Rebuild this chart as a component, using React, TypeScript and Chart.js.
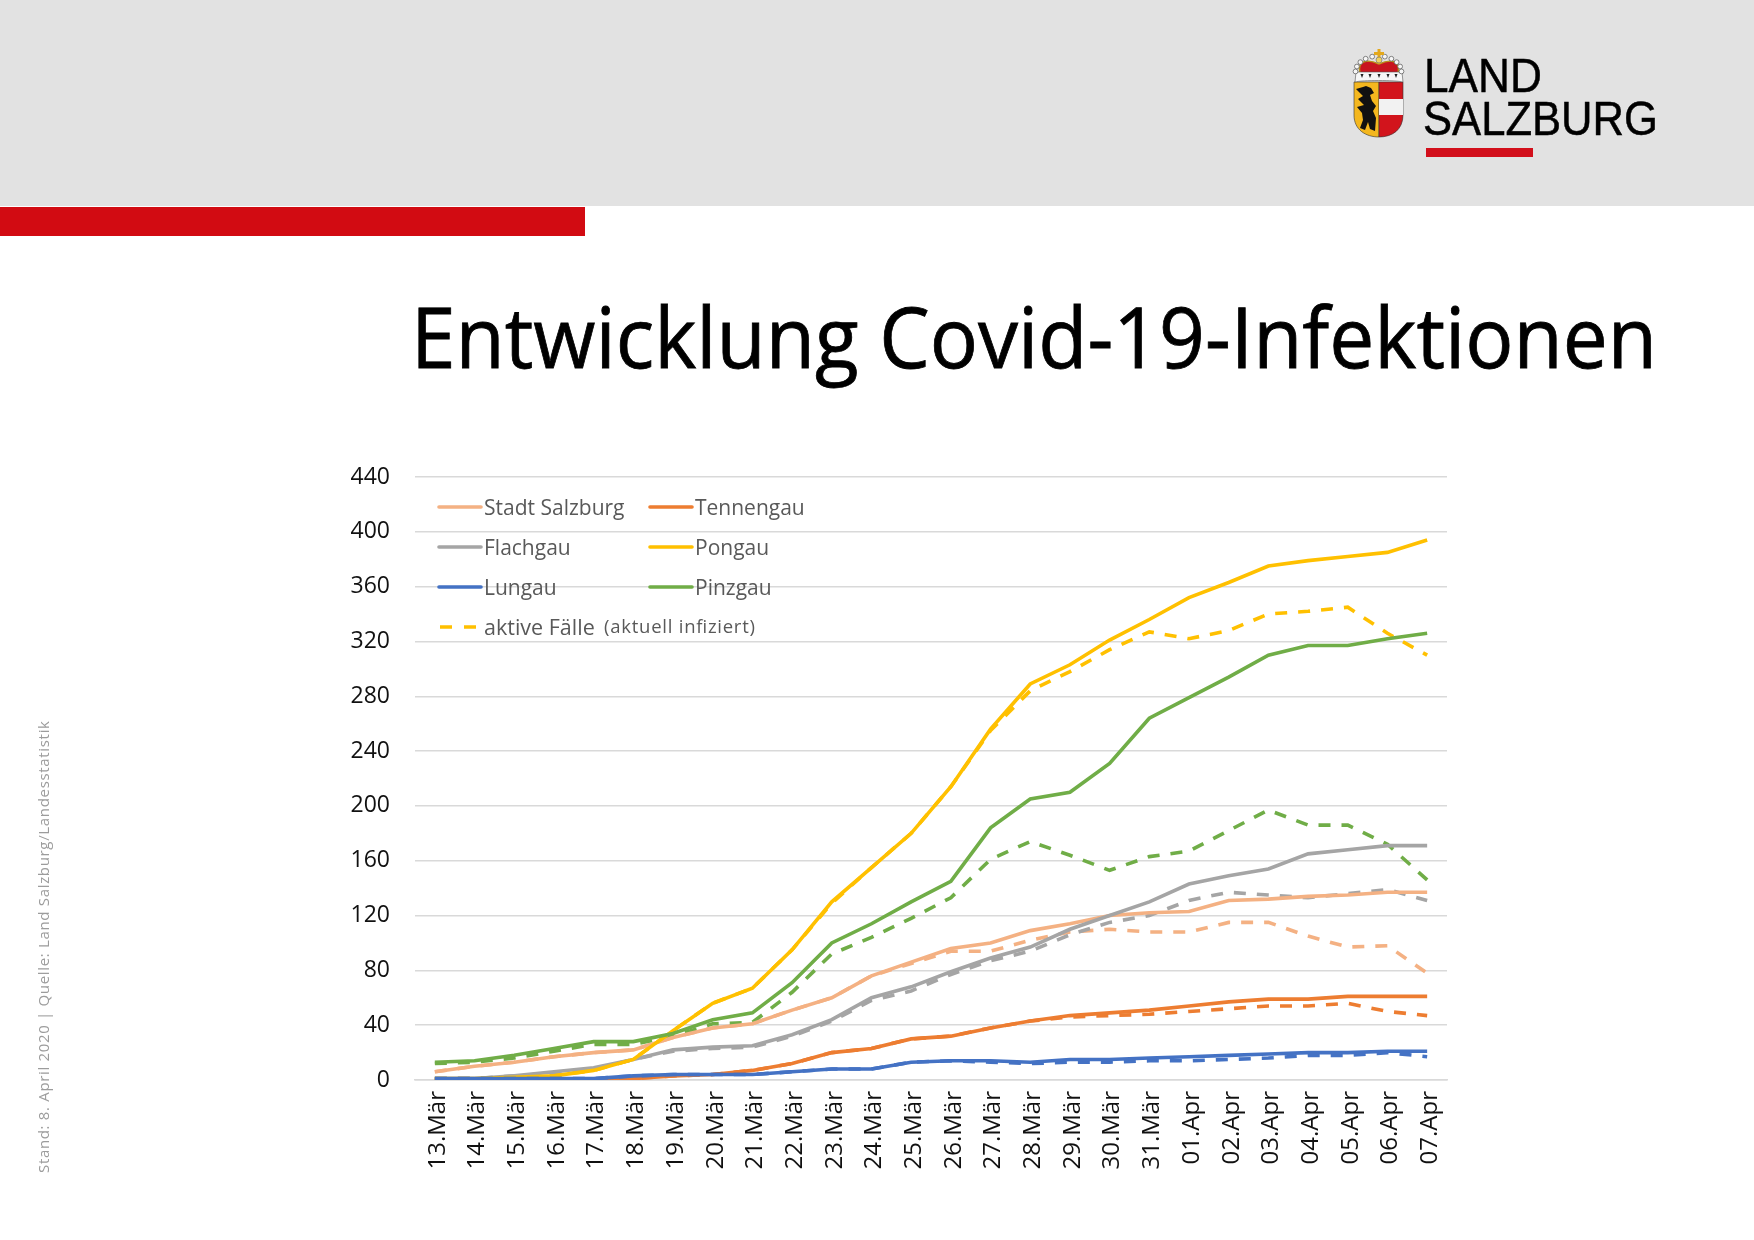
import React, { useEffect, useRef } from "react";
import { Chart, registerables } from "chart.js";

Chart.register(...registerables);

const days = ["13.Mär","14.Mär","15.Mär","16.Mär","17.Mär","18.Mär","19.Mär","20.Mär","21.Mär","22.Mär","23.Mär","24.Mär","25.Mär","26.Mär","27.Mär","28.Mär","29.Mär","30.Mär","31.Mär","01.Apr","02.Apr","03.Apr","04.Apr","05.Apr","06.Apr","07.Apr"];

const stadt = [6,10,13,17,20,22,31,38,41,51,60,76,86,96,100,109,114,120,122,123,131,132,134,135,137,137];
const stadtActive = [6,10,13,17,20,22,31,38,41,51,60,76,85,94,94,102,108,110,108,108,115,115,105,97,98,78];
const tennengau = [0,0,0,0,0,1,3,4,7,12,20,23,30,32,38,43,47,49,51,54,57,59,59,61,61,61];
const tennengauActive = [0,0,0,0,0,1,3,4,7,12,20,23,30,32,38,43,46,47,48,50,52,54,54,56,50,47];
const flachgau = [1,1,3,6,9,15,22,24,25,33,44,60,68,79,89,97,110,120,130,143,149,154,165,168,171,171];
const flachgauActive = [1,1,3,5,8,15,21,23,24,32,43,58,65,77,87,94,106,115,120,131,137,135,133,136,139,131];
const pongau = [1,1,2,3,7,15,36,56,67,95,130,155,180,214,256,289,303,321,336,352,363,375,379,382,385,394];
const pongauActive = [1,1,2,3,7,15,36,56,67,95,129,155,180,214,255,284,298,314,327,322,328,340,342,345,326,310];
const lungau = [1,1,1,1,1,3,4,4,4,6,8,8,13,14,14,13,15,15,16,17,18,19,20,20,21,21];
const lungauActive = [1,1,1,1,1,3,4,4,4,6,8,8,13,14,13,12,13,13,14,14,15,16,18,18,20,17];
const pinzgau = [13,14,18,23,28,28,34,44,49,71,100,114,130,145,184,205,210,231,264,279,294,310,317,317,322,326];
const pinzgauActive = [12,13,16,21,26,26,32,41,42,64,92,104,118,133,161,174,164,153,163,167,182,197,186,186,172,146];

const seriesNames = ["Stadt Salzburg","Tennengau","Flachgau","Pongau","Lungau","Pinzgau"];
const seriesColors = ["#F4B183","#ED7D31","#A5A5A5","#FFC000","#4472C4","#70AD47"];
const solidValues = [stadt,tennengau,flachgau,pongau,lungau,pinzgau];
const activeValues = [stadtActive,tennengauActive,flachgauActive,pongauActive,lungauActive,pinzgauActive];
const solidOrder = [9,5,6,4,1,3];
const activeOrder = [12,8,10,7,2,11];

const chartFont = "'Open Sans', sans-serif";
const legendRows = [
  { y: 507, cells: [0, 1] },
  { y: 547, cells: [2, 3] },
  { y: 587, cells: [4, 5] },
];
const legendX = [439, 650];
const pearlAngles = [-178,-160,-142,-124,-106,-74,-56,-38,-20,-2];

function Overlay() {
  return (
    <svg width={1754} height={1240} style={{ position: "absolute", left: 0, top: 0, pointerEvents: "none" }}>
      <rect x={0} y={0} width={1754} height={206} fill="#E2E2E2" />
      <rect x={0} y={207} width={585} height={29} fill="#D20B12" />
      <rect x={1426} y={148} width={107} height={9} fill="#D20F1B" />
      <text x={1424} y={92} fontFamily="'Liberation Sans', sans-serif" fontSize={49} textLength={118} lengthAdjust="spacingAndGlyphs" fill="#000" stroke="#000" strokeWidth={0.5}>LAND</text>
      <text x={1423} y={135} fontFamily="'Liberation Sans', sans-serif" fontSize={49} textLength={235} lengthAdjust="spacingAndGlyphs" fill="#000" stroke="#000" strokeWidth={0.5}>SALZBURG</text>

      <path d="M1354 82 H1379 V137 C1366 137 1354 130 1354 115 Z" fill="#F4B71E" stroke="#333" strokeWidth={0.6} />
      <path d="M1379 82 H1403 V115 C1403 130 1392 137 1379 137 Z" fill="#D2141C" stroke="#333" strokeWidth={0.6} />
      <rect x={1379} y={99} width={24} height={16} fill="#F2F2F2" />
      <path d="M1356 89 L1363 87 L1366 86 L1371 88 L1374 93 L1370 95 L1372 101 L1376 106 L1373 111 L1376 118 L1375 131 L1370 129 L1368 122 L1365 130 L1360 128 L1363 120 L1362 113 L1357 107 L1364 105 L1358 99 L1363 96 Z" fill="#111" />
      <path d="M1360 73 C1357 60 1368 59 1379 64 C1390 59 1401 60 1398 73 Z" fill="#C8141E" stroke="#B8901A" strokeWidth={1.4} />
      <path d="M1356 72 H1402 L1403 82 C1395 80 1362 80 1355 82 Z" fill="#F6F6F6" stroke="#555" strokeWidth={0.6} />
      {[1362,1370,1379,1388,1396].map((x) => (
        <path key={x} d={`M${x - 1.5} 74 h3 l-1.5 4 Z`} fill="#222" />
      ))}
      {pearlAngles.map((a) => (
        <circle key={a} cx={1378.5 + 23 * Math.cos((a * Math.PI) / 180)} cy={72 + 16 * Math.sin((a * Math.PI) / 180)} r={2.4} fill="#F6F6F6" stroke="#555" strokeWidth={0.7} />
      ))}
      <rect x={1377.5} y={49} width={3} height={15} fill="#E3A81C" />
      <rect x={1374} y={52} width={10} height={3} fill="#E3A81C" />
      <circle cx={1379} cy={60} r={3} fill="#F0D060" stroke="#777" strokeWidth={0.7} />

      <text x={411} y={368} fontFamily="'Open Sans', sans-serif" fontSize={84} textLength={1246} lengthAdjust="spacingAndGlyphs" fill="#000" stroke="#000" strokeWidth={0.8}>Entwicklung Covid-19-Infektionen</text>

      <text transform="translate(49 1173) rotate(-90)" fontFamily="'Open Sans', sans-serif" fontSize={15} textLength={452} fill="#9C9C9C">Stand: 8. April 2020 | Quelle: Land Salzburg/Landesstatistik</text>

      {legendRows.map((row) =>
        row.cells.map((idx, c) => (
          <g key={idx}>
            <line x1={legendX[c]} x2={legendX[c] + 42} y1={row.y} y2={row.y} stroke={seriesColors[idx]} strokeWidth={3.6} strokeLinecap="round" />
            <text x={legendX[c] + 45} y={row.y + 8} fontFamily="'Open Sans', sans-serif" fontSize={21} fill="#595959">{seriesNames[idx]}</text>
          </g>
        ))
      )}
      <line x1={440} x2={478} y1={627} y2={627} stroke="#FFC000" strokeWidth={3.6} strokeDasharray="12 12" />
      <text x={484} y={635} fontFamily="'Open Sans', sans-serif" fontSize={21.5} fill="#595959">aktive Fälle</text>
      <text x={604} y={633} fontFamily="'Open Sans', sans-serif" fontSize={18.5} textLength={151} fill="#595959">(aktuell infiziert)</text>
    </svg>
  );
}

export default function App() {
  const ref = useRef<HTMLCanvasElement>(null);
  useEffect(() => {
    document.body.style.margin = "0";
    document.body.style.overflow = "hidden";
    const solid = seriesNames.map((name, i) => ({
      label: name,
      data: solidValues[i],
      borderColor: seriesColors[i],
      backgroundColor: seriesColors[i],
      borderWidth: 3.6,
      pointRadius: 0,
      tension: 0,
      order: solidOrder[i],
    }));
    const active = seriesNames.map((name, i) => ({
      label: name + " aktive Fälle",
      data: activeValues[i],
      borderColor: seriesColors[i],
      backgroundColor: seriesColors[i],
      borderWidth: 3.6,
      borderDash: [12, 11],
      pointRadius: 0,
      tension: 0,
      order: activeOrder[i],
    }));
    const chart = new Chart(ref.current!, {
      type: "line",
      data: { labels: days, datasets: [...solid, ...active] },
      options: {
        animation: false,
        responsive: false,
        devicePixelRatio: 1,
        layout: { padding: { left: 338, right: 307, top: 477, bottom: 60 } },
        plugins: { legend: { display: false }, tooltip: { enabled: false } },
        scales: {
          x: {
            offset: true,
            grid: { display: false, drawTicks: false },
            border: { display: true, color: "#D9D9D9", width: 1.5 },
            afterFit: (s: any) => { s.height = 100; },
            ticks: {
              autoSkip: false,
              minRotation: 90,
              maxRotation: 90,
              padding: 11,
              labelOffset: 3,
              color: "#111",
              font: { family: chartFont, size: 24 },
            },
          },
          y: {
            min: 0,
            max: 440,
            grid: { color: "#D9D9D9", lineWidth: 1.5, drawTicks: false },
            border: { display: false },
            afterFit: (s: any) => { s.width = 77; },
            ticks: {
              stepSize: 40,
              padding: 25,
              color: "#111",
              font: { family: chartFont, size: 23 },
            },
          },
        },
      },
    });
    return () => chart.destroy();
  }, []);
  return (
    <div style={{ position: "absolute", left: 0, top: 0, width: 1754, height: 1240, background: "#fff", overflow: "hidden" }}>
      <canvas ref={ref} width={1754} height={1240} style={{ position: "absolute", left: 0, top: 0 }} />
      <Overlay />
    </div>
  );
}
